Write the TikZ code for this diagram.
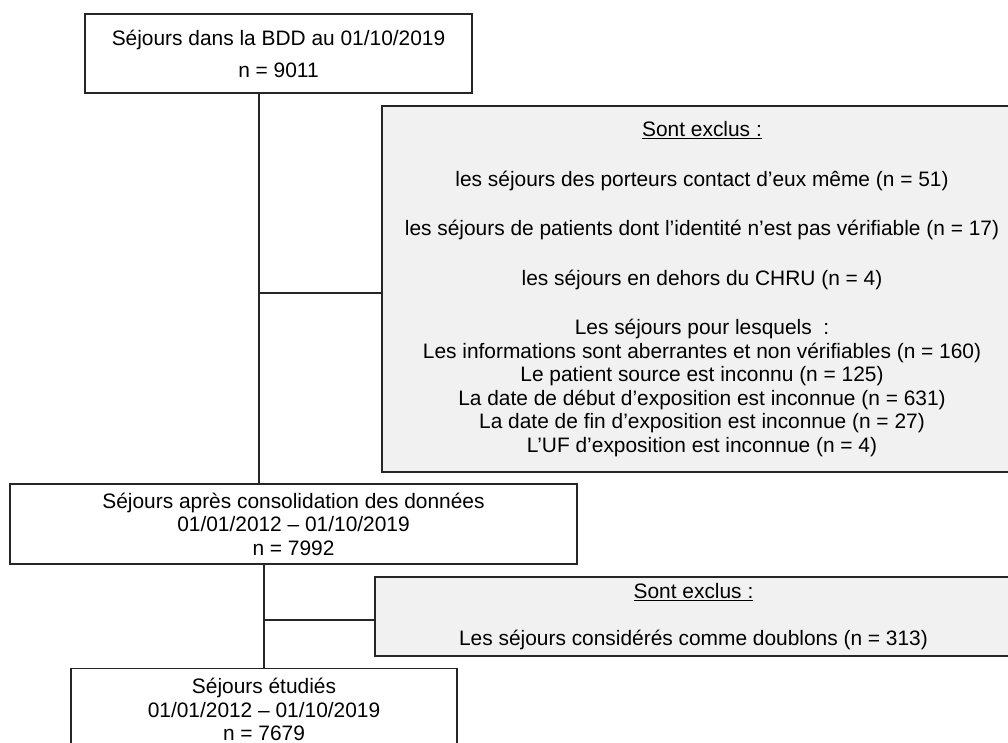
\documentclass[tikz,border=0pt]{standalone}
\usepackage{fontspec}
\setmainfont{Liberation Sans}
\usepackage{xcolor}
\usepackage{tikz}
\usetikzlibrary{calc}
\usetikzlibrary{positioning}

\definecolor{exclgray}{HTML}{F1F1F1}
\definecolor{edgegray}{HTML}{262626}

\begin{document}
\begin{tikzpicture}[x=1pt,y=-1pt,-,line width=1.5pt,draw=edgegray,
                    every node/.style={font=\fontsize{20.9}{23.5}\selectfont},
                    main node/.style={rectangle,draw=edgegray,fill=white,align=center,inner sep=0pt},
                    excl node/.style={main node,fill=exclgray}]
 \useasboundingbox (0,0) rectangle (1008,743);
 \clip (0,0) rectangle (1008,743);

 \node[main node,minimum width=387pt,minimum height=79pt] (1) at (278.5,53.5)
   {Séjours dans la BDD au 01/10/2019\\[8.5pt] n = 9011};

 \node[excl node,minimum width=640pt,minimum height=366pt] (ex1) at (702,289)
   {\underline{Sont exclus :}\\[26pt]
    les séjours des porteurs contact d’eux même (n = 51)\\[26pt]
    les séjours de patients dont l’identité n’est pas vérifiable (n = 17)\\[26pt]
    les séjours en dehors du CHRU (n = 4)\\[26pt]
    Les séjours pour lesquels \ :\\
    Les informations sont aberrantes et non vérifiables (n = 160)\\
    Le patient source est inconnu (n = 125)\\
    La date de début d’exposition est inconnue (n = 631)\\
    La date de fin d’exposition est inconnue (n = 27)\\
    L’UF d’exposition est inconnue (n = 4)};

 \node[main node,minimum width=567pt,minimum height=80pt] (2) at (293.5,524)
   {Séjours après consolidation des données\\ 01/01/2012 – 01/10/2019\\ n = 7992};

 \node[excl node,minimum width=637pt,minimum height=79pt] (ex2) at (693.5,616.5)
   {\underline{Sont exclus :}\\[23.5pt] Les séjours considérés comme doublons (n = 313)};

 \node[main node,minimum width=386pt,minimum height=82pt] (3) at (264,709.5)
   {Séjours étudiés\\ 01/01/2012 – 01/10/2019\\ n = 7679};

 \coordinate (j1) at (259,293);
 \coordinate (j2) at (264,620);

 \draw (1.south -| j1) -- (2.north -| j1);
 \draw (j1) -- (ex1.west |- j1);
 \draw (2.south -| j2) -- (3.north -| j2);
 \draw (j2) -- (ex2.west |- j2);

\end{tikzpicture}
\end{document}
